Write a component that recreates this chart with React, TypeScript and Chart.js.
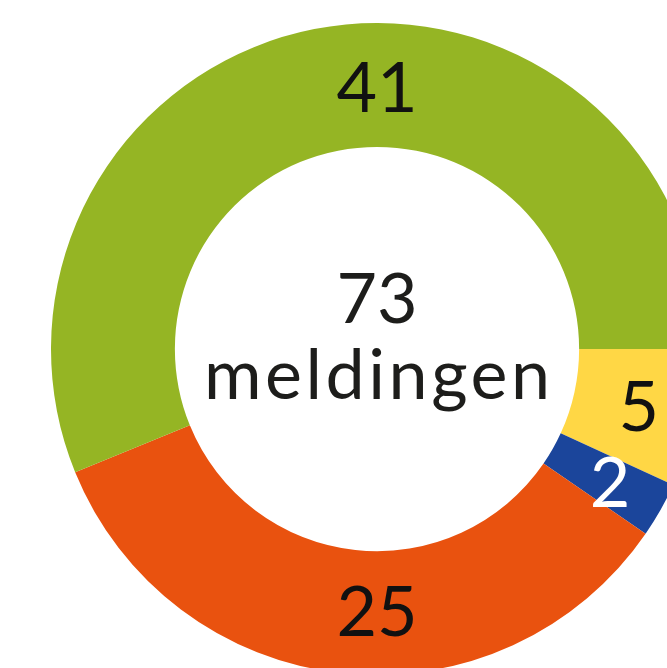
import React, { useEffect, useRef } from "react";
import { Chart, registerables } from "chart.js";

Chart.register(...registerables);

const categories = ["Categorie geel", "Categorie blauw", "Categorie oranje", "Categorie groen"];
const values = [5, 2, 25, 41];
const colors = ["#ffd745", "#1b459b", "#e9520f", "#95b524"];
const labelColors = ["#111111", "#ffffff", "#111111", "#111111"];
const centerLabel = "meldingen";

const FONT = "70px Lato, 'Noto Sans', sans-serif";

const labelPlugin = {
  id: "ringLabels",
  afterDraw(chart: any) {
    const ctx = chart.ctx;
    const meta = chart.getDatasetMeta(0);
    ctx.save();
    ctx.font = FONT;
    ctx.textAlign = "center";
    ctx.textBaseline = "alphabetic";
    const half = 0.36 * 70;
    meta.data.forEach((arc: any, i: number) => {
      const p = arc.getProps(["x", "y", "startAngle", "endAngle", "innerRadius", "outerRadius"], true);
      let a = (p.startAngle + p.endAngle) / 2;
      const span = p.endAngle - p.startAngle;
      if (span > Math.PI / 2) {
        for (const c of [Math.PI / 2, (3 * Math.PI) / 2]) {
          if (c >= p.startAngle && c <= p.endAngle) a = c;
        }
      }
      const r = (p.innerRadius + p.outerRadius) / 2 + (span < Math.PI / 2 ? 4 : -2);
      const x = p.x + Math.cos(a) * r;
      const y = p.y + Math.sin(a) * r;
      ctx.fillStyle = labelColors[i];
      ctx.fillText(String(values[i]), x, y + half);
    });
    const cx = meta.data[0].x;
    const cy = meta.data[0].y;
    const total = values.reduce((s, v) => s + v, 0);
    ctx.fillStyle = "#1d1d1b";
    ctx.fillText(String(total), cx, cy - 26);
    (ctx as any).letterSpacing = "3.5px";
    ctx.fillText(centerLabel, cx + 1.75, cy + 50);
    ctx.restore();
  },
};

export default function App() {
  const ref = useRef<HTMLCanvasElement | null>(null);
  useEffect(() => {
    document.body.style.margin = "0";
    document.body.style.overflow = "hidden";
    const chart = new Chart(ref.current as HTMLCanvasElement, {
      type: "doughnut",
      data: {
        labels: categories,
        datasets: [
          {
            data: values,
            backgroundColor: colors,
            borderWidth: 0,
          },
        ],
      },
      options: {
        responsive: false,
        animation: false,
        rotation: 90,
        cutout: "62%",
        layout: { padding: 0 },
        plugins: { legend: { display: false }, tooltip: { enabled: false } },
      },
      plugins: [labelPlugin],
    } as any);
    return () => chart.destroy();
  }, []);
  return (
    <div style={{ position: "fixed", left: 0, top: 0, width: 667, height: 668, overflow: "hidden", background: "#fff" }}>
      <canvas
        ref={ref}
        width={652}
        height={652}
        style={{ position: "absolute", left: 51, top: 23, width: 652, height: 652 }}
      />
    </div>
  );
}
